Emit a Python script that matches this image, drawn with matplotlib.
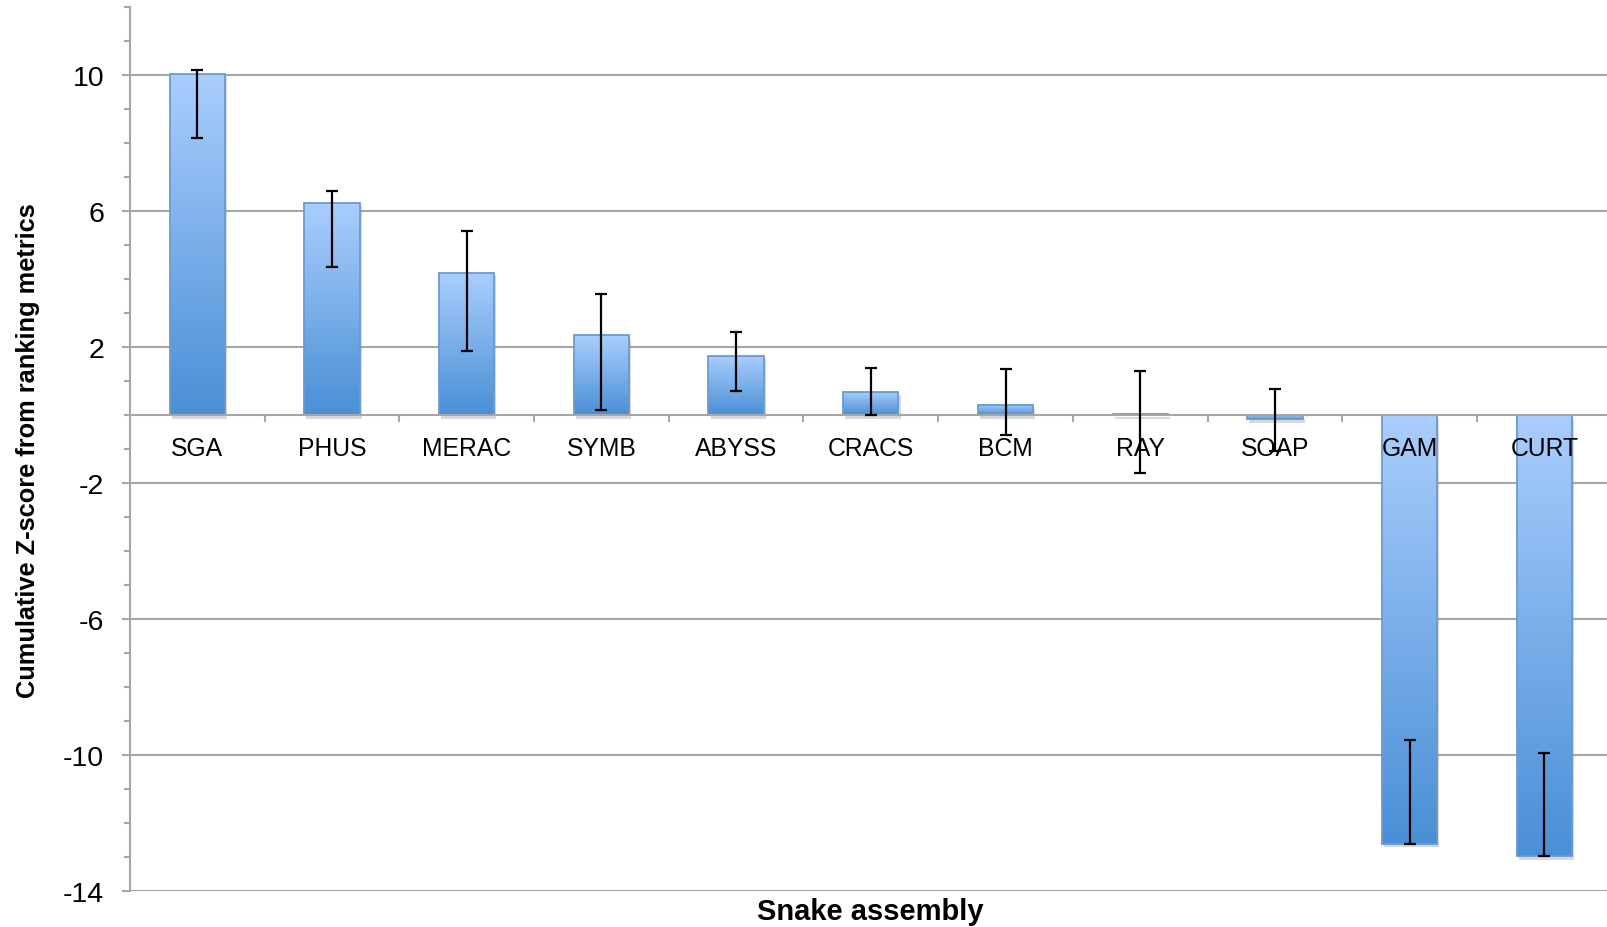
import numpy as np
import matplotlib
matplotlib.use("Agg")
import matplotlib.pyplot as plt
from matplotlib import patheffects
from matplotlib.colors import LinearSegmentedColormap
from matplotlib.ticker import MultipleLocator

# Cumulative Z-scores per assembler, with lower/upper error limits
assemblers = ["SGA", "PHUS", "MERAC", "SYMB", "ABYSS", "CRACS",
              "BCM", "RAY", "SOAP", "GAM", "CURT"]
zscores = [10.05, 6.26, 4.19, 2.35, 1.75, 0.69, 0.30, 0.05, -0.11, -12.59, -12.97]
err_lower = [8.15, 4.35, 1.90, 0.15, 0.72, 0.01, -0.58, -1.70, -1.04, -12.59, -12.95]
err_upper = [10.17, 6.61, 5.43, 3.56, 2.44, 1.39, 1.35, 1.31, 0.77, -9.54, -9.93]
y_ticks = [-14, -10, -6, -2, 2, 6, 10]

plt.rcParams["font.family"] = ["Liberation Sans", "DejaVu Sans"]

fig = plt.figure(figsize=(16.08, 9.28), dpi=100)
ax = fig.add_axes([0.0808, 0.0383, 0.9215, 0.9527])

grid_col = "#a6a6a6"
x = np.arange(len(assemblers))
width = 0.41

# horizontal gridlines at labelled values
for yv in y_ticks:
    ax.axhline(yv, color=grid_col, lw=1.5, zorder=0)

# base bars carry a soft drop shadow
base = ax.bar(x, zscores, width=width, facecolor="#4a8fd6", lw=0, zorder=2)
for b in base:
    b.set_path_effects([patheffects.SimplePatchShadow(offset=(1.5, -2.5),
                                                      shadow_rgbFace="#808080",
                                                      alpha=0.3),
                        patheffects.Normal()])

# gradient fill for each bar, light at top, darker at bottom
cmap = LinearSegmentedColormap.from_list("barfade", ["#4a8fd6", "#aacefd"])
grad = np.linspace(0, 1, 256).reshape(-1, 1)
for b, v in zip(base, zscores):
    x0 = b.get_x()
    top, bot = max(v, 0), min(v, 0)
    im = ax.imshow(grad, cmap=cmap, aspect="auto", origin="lower",
                   extent=[x0, x0 + width, bot, top], zorder=2.5,
                   interpolation="bilinear")
    im.set_clip_path(b)

# bar outlines
ax.bar(x, zscores, width=width, facecolor="none", edgecolor="#6a9bd0",
       lw=1.3, zorder=3)

ax.set_xlim(-0.5, len(assemblers) - 0.5)
ax.set_ylim(-14, 12)

# error bars spanning the lower/upper limits
lo = np.array(err_lower)
hi = np.array(err_upper)
ax.errorbar(x, (lo + hi) / 2, yerr=(hi - lo) / 2, fmt="none", ecolor="black",
            elinewidth=1.6, capsize=4.5, capthick=1.6, zorder=5)

# axes styling
for side in ("top", "right"):
    ax.spines[side].set_visible(False)
ax.spines["left"].set_color(grid_col)
ax.spines["left"].set_linewidth(1.5)
ax.spines["bottom"].set_position(("data", 0))
ax.spines["bottom"].set_color(grid_col)
ax.spines["bottom"].set_linewidth(1.5)
ax.spines["bottom"].set_zorder(4)

ax.set_xticks(np.arange(0.5, len(assemblers) - 0.5, 1.0))
ax.set_xticklabels([])
ax.tick_params(axis="x", direction="out", length=5, width=1.5, color=grid_col)

ax.set_yticks(y_ticks)
ax.set_yticklabels([str(t) for t in y_ticks])
ax.yaxis.set_minor_locator(MultipleLocator(1))
ax.tick_params(axis="y", which="major", length=5.5, width=1.5, color=grid_col,
               labelsize=20.5, pad=13)
ax.tick_params(axis="y", which="minor", length=4.5, width=1.5, color=grid_col)

for xi, name in zip(x, assemblers):
    ax.text(xi, -0.96, name, ha="center", va="center", fontsize=17.8,
            zorder=6)

fig.text(0.0175, 0.514, "Cumulative Z-score from ranking metrics",
         rotation=90, ha="center", va="center", fontsize=18.3,
         fontweight="bold")
fig.text(0.541, 0.0176, "Snake assembly", ha="center", va="center",
         fontsize=21, fontweight="bold")

fig.savefig("out.png", dpi=100)
